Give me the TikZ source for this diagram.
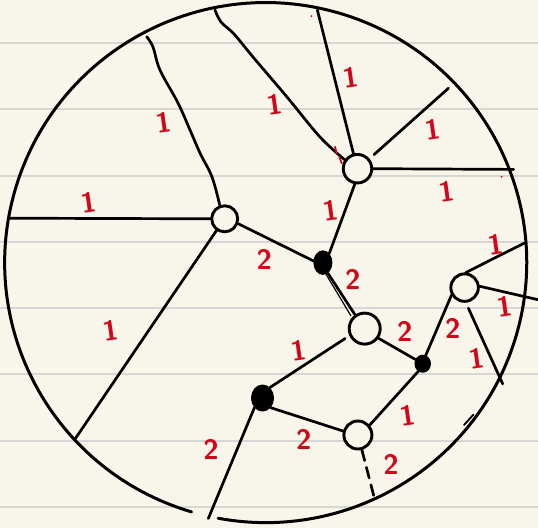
\documentclass[tikz,border=0pt]{standalone}
\usetikzlibrary{shapes.geometric}
\definecolor{paper}{RGB}{248,246,234}
\definecolor{ruleline}{RGB}{214,214,212}
\definecolor{pen}{RGB}{210,6,24}
\begin{document}
\begin{tikzpicture}[x=1pt,y=-1pt,line cap=round,line join=round,
  stroke/.style={draw=black,line width=2.7pt},
  opennode/.style={circle,draw=black,line width=2.9pt,fill=paper,inner sep=0pt},
  blob/.style={ellipse,draw=black,fill=black,line width=1pt,inner sep=0pt},
  lab/.style={text=pen,font=\sffamily\bfseries\fontsize{28}{28}\selectfont,inner sep=0pt},
  one/.style={lab,rotate=8}]
% background and ruled paper
\fill[paper] (0,0) rectangle (538,528);
\useasboundingbox (0,0) rectangle (538,528);
\foreach \yy in {43,109.2,175.5,241.7,308,374.2,440.5,506.7}
  \draw[ruleline,line width=2pt] (0,\yy) -- (538,\yy);
% outer circle (small gap at the bottom)
\coordinate (cc) at (265.7,262.6);
\draw[stroke,line width=3pt] ([shift={(106.5:261 and 260)}]cc) arc[start angle=106.5,end angle=460.5,x radius=261,y radius=260];
\draw[black,line width=1.8pt] (464,425) -- (473.5,414.5);
% nodes
\node[opennode,minimum size=26pt] (A) at (224.7,218.8) {};
\node[opennode,minimum size=28.5pt] (B) at (357.5,168.7) {};
\node[blob,minimum width=18pt,minimum height=23.5pt] (C) at (322.9,262.6) {};
\node[opennode,minimum size=31pt] (D) at (364.7,328.6) {};
\node[blob,minimum width=15.5pt,minimum height=17pt] (E) at (422.7,363.7) {};
\node[opennode,minimum size=27.5pt] (F) at (464.6,287.6) {};
\node[blob,minimum width=22pt,minimum height=26pt] (G) at (262.5,398) {};
\node[opennode,minimum size=28pt] (H) at (357.9,435) {};
% free ends on the rim
\coordinate (aL) at (10.3,218.2);
\coordinate (aT) at (146.7,36.7);
\coordinate (aD) at (74.8,439.4);
\coordinate (bW) at (215,10);
\coordinate (bT) at (317.4,10.1);
\coordinate (bR) at (448.5,88.2);
\coordinate (bE) at (513.6,169.4);
\coordinate (fU) at (524.3,243.1);
\coordinate (fR) at (538,299.7);
\coordinate (fD) at (502.7,383.9);
\coordinate (gD) at (208.3,518.5);
\coordinate (hD) at (374,496.7);
% connectors
\draw[stroke] (A.180) -- (aL);
\draw[stroke] plot[smooth,tension=0.6] coordinates {(aT) (153,47) (160,70) (178,103) (190,130) (200,153) (212,177) (A.110)};
\draw[stroke] (A.-125) -- (aD);
\draw[stroke] (A.-20) -- (C.170);
\draw[stroke] plot[smooth,tension=0.6] coordinates {(bW) (221,22) (234,34) (253,57) (287,97) (320,137) (B.145)};
\draw[stroke] (bT) -- (B.105);
\draw[stroke,shorten <=6pt] (B.40) -- (bR);
\draw[stroke] (B.0) -- (bE);
\draw[stroke] (B.-100) -- (C.55);
\draw[stroke] (C.-65) -- (D.125);
\draw[black,line width=1.2pt] (C.-75) -- ([xshift=-3pt]D.130);
\draw[stroke] (D.-35) -- (E.150);
\draw[stroke,shorten <=5pt] (D.205) -- (G.55);
\draw[stroke] (E.70) -- (F.210);
\draw[stroke] (E.-120) -- (H.40);
\draw[stroke] (G.-50) -- (H.165);
\draw[stroke] (G.230) -- (gD);
\draw[stroke,dash pattern=on 11pt off 7pt] (H.-75) -- (hD);
\draw[stroke] (F.85) -- (fU);
\draw[stroke] (F.5) -- (fR);
\draw[stroke,shorten <=6pt] (F.-85) -- (fD);
% red weights
\node[one] (w1) at (88.5,202) {1};
\node[one] (w2) at (163.7,122.9) {1};
\node[one] (w3) at (110.5,330) {1};
\node[lab] (w4) at (264.2,259.3) {2};
\node[one] (w5) at (274.5,104.4) {1};
\node[one] (w6) at (351,77.4) {1};
\node[one] (w7) at (433,129.6) {1};
\node[one] (w8) at (446.7,191.9) {1};
\node[one] (w9) at (330.4,210.4) {1};
\node[lab] (w10) at (352.7,279.5) {2};
\node[lab] (w11) at (404.9,331.6) {2};
\node[one] (w12) at (298.5,350.2) {1};
\node[lab] (w13) at (452.9,328.3) {2};
\node[one] (w14) at (407.6,415.8) {1};
\node[lab] (w15) at (303.7,439.4) {2};
\node[lab] (w16) at (211,449.5) {2};
\node[lab] (w17) at (391.1,464) {2};
\node[one] (w18) at (495.8,244.1) {1};
\node[one] (w19) at (504.4,306.4) {1};
\node[one] (w20) at (476.9,358.6) {1};
% stray red pen marks
\draw[pen,line width=1.8pt] (335,146.7) -- (336.7,153.3);
\draw[pen,line width=1.8pt] (339.3,156.7) -- (341.7,163.3);
\fill[pen] (311.5,16.2) circle[radius=1pt];
\fill[pen] (501.6,176.8) circle[radius=1pt];
\end{tikzpicture}
\end{document}
